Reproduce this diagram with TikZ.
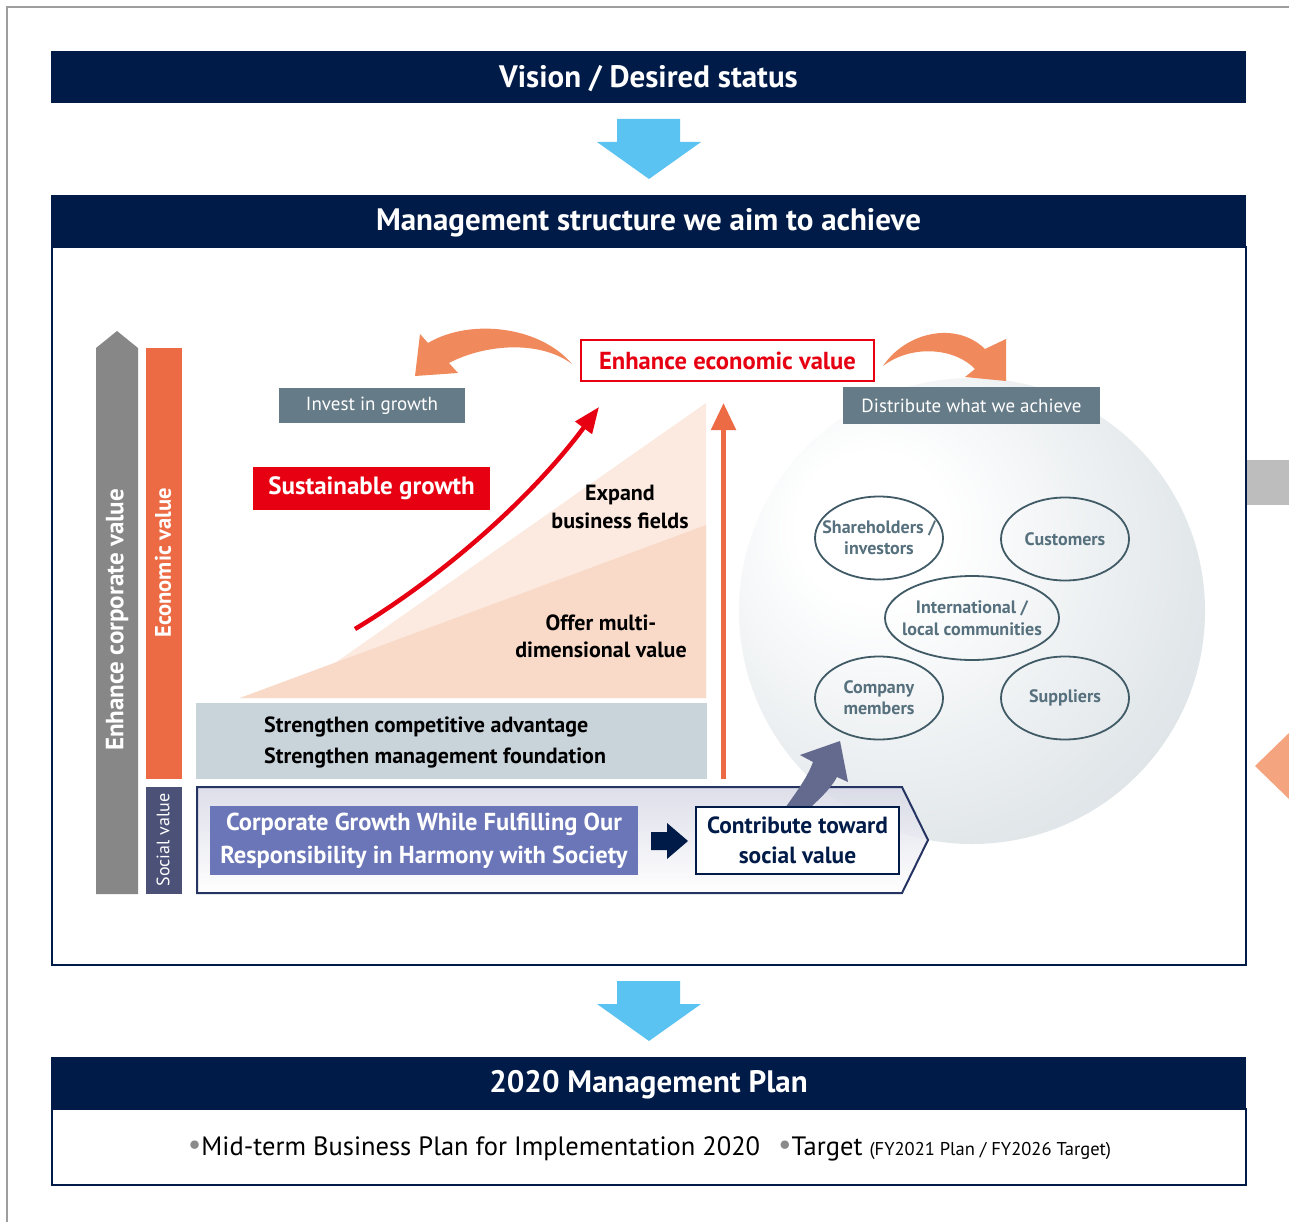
\documentclass[tikz,border=0pt]{standalone}
\usepackage{fontspec}
\setmainfont{PT Sans}
\usetikzlibrary{arrows.meta,shapes.geometric}
\definecolor{navy}{HTML}{011B49}
\definecolor{sky}{HTML}{5BC3F1}
\definecolor{grayarr}{HTML}{878787}
\definecolor{orbar}{HTML}{EC6B45}
\definecolor{socbar}{HTML}{4B5177}
\definecolor{slate}{HTML}{657B87}
\definecolor{redc}{HTML}{E60012}
\definecolor{orcurve}{HTML}{F08A5D}
\definecolor{peachL}{HTML}{FCEAE0}
\definecolor{peachD}{HTML}{F9DAC8}
\definecolor{strbox}{HTML}{C8D3DA}
\definecolor{pentb}{HTML}{253463}
\definecolor{pentf}{HTML}{D8D9E6}
\definecolor{bluebox}{HTML}{6B76B8}
\definecolor{slatearr}{HTML}{646A8E}
\definecolor{ellst}{HTML}{405A66}
\definecolor{elltx}{HTML}{56707D}
\definecolor{sphedge}{HTML}{CDD6DB}
\definecolor{framegray}{HTML}{9E9E9E}
\definecolor{sidegray}{HTML}{BDBDBD}
\definecolor{sidesalmon}{HTML}{F4A47E}
\definecolor{bul}{HTML}{8A8A8A}
\newcommand\fsz[2]{\fontsize{#1}{#2}\selectfont}
\newcommand\lowertxt[2]{\raisebox{-#1}[\height][\depth]{#2}}
\pgfdeclareradialshading{sph}{\pgfpoint{-12bp}{10bp}}{%
  color(0bp)=(white); color(8bp)=(white); color(30bp)=(sphedge!55); color(52bp)=(sphedge); color(80bp)=(sphedge)}
\tikzset{
  hdr/.style={fill=navy, text=white, font=\bfseries\fsz{31}{35}, minimum width=1195pt, minimum height=52pt, inner sep=0pt},
  tag/.style={fill=slate, text=white, font=\fsz{19}{22}, inner sep=0pt},
  ell/.style={ellipse, draw=ellst, line width=1.8pt, inner sep=0pt, minimum width=128pt, minimum height=83pt},
  elltxt/.style={text=elltx, font=\bfseries\fsz{18}{21}, align=center, inner sep=0pt},
  blk/.style={font=\bfseries\fsz{22}{28}, align=center, text=black},
  rot/.style={rotate=90, text=white, inner sep=0pt},
}
\begin{document}
\begin{tikzpicture}[x=1pt,y=-1pt]
\useasboundingbox (0,0) rectangle (1289,1222);
\fill[white] (0,0) rectangle (1289,1222);
% frame bits
\draw[framegray, line width=2pt] (7,1222) -- (7,7) -- (1289,7);
\fill[sidegray] (1247,460) rectangle (1289,505);
\fill[sidesalmon] (1255,766) -- (1289,733) -- (1289,799) -- cycle;

% headers
\node[hdr] (vision) at (648.5,77) {\lowertxt{2pt}{Vision / Desired status}};
\fill[sky] (617,119) -- (680,119) -- (680,142) -- (701,142) -- (649,179) -- (597,142) -- (617,142) -- cycle;
\node[hdr] (mgmt) at (648.5,221) {\lowertxt{2pt}{Management structure we aim to achieve}};
\draw[navy, line width=2pt] (52,247) rectangle (1246,965);
\fill[sky] (617,981) -- (680,981) -- (680,1004) -- (701,1004) -- (649,1041) -- (597,1004) -- (617,1004) -- cycle;
\node[hdr] (plan) at (648.5,1083) {\lowertxt{2pt}{2020 Management Plan}};
\draw[navy, line width=2pt] (52,1109) rectangle (1246,1185);
\node[font=\fsz{26.5}{30}, inner sep=0pt] (planline) at (649.5,1149)
  {{\color{bul}\fsz{30}{30}\raisebox{1pt}{\textbullet}}Mid-term Business Plan for Implementation 2020\hspace{18pt}{\color{bul}\fsz{30}{30}\raisebox{1pt}{\textbullet}}Target {\fsz{18.5}{22}(FY2021 Plan / FY2026 Target)}};

% sphere
\shade[shading=sph] (972,611) circle[radius=233];

% left bars
\fill[grayarr] (96,348) -- (117,331) -- (138,348) -- (138,894) -- (96,894) -- cycle;
\node[rot, font=\bfseries\fsz{25}{27}] (corp) at (117,620) {Enhance corporate value};
\fill[orbar] (146,348) rectangle (182,779);
\node[rot, font=\bfseries\fsz{22.5}{24}] (econ) at (163,563) {Economic value};
\fill[socbar] (146,787) rectangle (182,894);
\node[rot, font=\fsz{18}{20}] (soc) at (163,840) {Social value};

% peach triangles
\fill[peachL] (240,698) -- (335,663) -- (706,403) -- (706,698) -- cycle;
\fill[peachD] (240,698) -- (706,525) -- (706,698) -- cycle;
\node[blk] (expand) at (620,507) {Expand\\business fields};
\node[blk, font=\bfseries\fsz{22}{27}] (offer) at (601,636.5) {Offer multi-\\dimensional value};

% strengthen box
\node[fill=strbox, minimum width=511pt, minimum height=76pt, inner sep=0pt] (str) at (451.5,741) {};
\node[font=\bfseries\fsz{22}{31}, align=left, anchor=west, inner sep=0pt] (strtxt) at (264,742) {Strengthen competitive advantage\\Strengthen management foundation};

% orange vertical arrow
\coordinate (ovb) at (723.5,779);
\coordinate (ovt) at (723.5,403);
\draw[orbar, line width=5pt, -{Triangle[length=27pt,width=24pt]}] (ovb) -- (ovt);

% top labels
\node[draw=redc, line width=2pt, fill=white, text=redc, font=\bfseries\fsz{24.6}{26}, minimum width=293pt, minimum height=41pt, inner sep=0pt] (enh) at (727.5,360.5) {Enhance economic value};
\node[tag, minimum width=186pt, minimum height=35pt] (invest) at (372,405.5) {Invest in growth};
\node[tag, minimum width=257pt, minimum height=37pt] (dist) at (971.5,405.5) {Distribute what we achieve};
\node[fill=redc, text=white, font=\bfseries\fsz{25}{27}, minimum width=237pt, minimum height=43pt, inner sep=0pt] (sust) at (371.5,488.5) {Sustainable growth};

% curved orange arrows
\fill[orcurve] (572,364) .. controls (540,326) and (470,318) .. (428,343)
  -- (420,334) -- (415,376) -- (458,373) -- (449,363)
  .. controls (485,344) and (540,340) .. (572,364) -- cycle;
\fill[orcurve] (883,366) .. controls (905,333) and (955,320) .. (985,349)
  -- (1006,339) -- (1006,381) -- (965,377) -- (975,369)
  .. controls (955,348) and (912,344) .. (883,366) -- cycle;

% red growth arrow
\coordinate (rs) at (355,629);
\coordinate (re) at (599,407);
\draw[redc, line width=4.5pt, -{Triangle[length=26pt,width=20pt]}] (rs) .. controls (440,578) and (530,500) .. (re);

% ellipses
\node[ell] (sh) at (879,538) {};
\node[elltxt] at (sh) {Shareholders /\\investors};
\node[ell] (cu) at (1065,539) {};
\node[elltxt] at (cu) {Customers};
\node[ell, minimum width=174pt, minimum height=84pt] (intl) at (972,618) {};
\node[elltxt, font=\bfseries\fsz{18}{22}] at (intl) {International /\\local communities};
\node[ell] (co) at (879,698) {};
\node[elltxt] at (co) {Company\\members};
\node[ell] (su) at (1065,698) {};
\node[elltxt] at (su) {Suppliers};

% pentagon
\shade[top color=pentf, bottom color=white, opacity=0.85] (197,787) -- (902,787) -- (928,840) -- (902,893) -- (197,893) -- cycle;
\draw[pentb, line width=2pt] (197,787) -- (902,787) -- (928,840) -- (902,893) -- (197,893) -- cycle;
\node[fill=bluebox, text=white, font=\bfseries\fsz{24.5}{33}, align=center, minimum width=428pt, minimum height=69pt, inner sep=0pt] (corpg) at (424,840.5) {Corporate Growth While Fulfilling Our\\Responsibility in Harmony with Society};
\fill[navy] (651,832) -- (667,832) -- (667,823) -- (688,841) -- (667,859) -- (667,850) -- (651,850) -- cycle;

% slate arrow
\fill[slatearr] (785,808) .. controls (798,790) and (808,776) .. (813,762)
  -- (800,755) -- (840,741) -- (848,782) -- (837,777)
  .. controls (830,790) and (818,800) .. (810,808) -- cycle;
\node[draw=navy, line width=2pt, fill=white, text=navy, font=\bfseries\fsz{23.4}{30}, align=center, minimum width=203pt, minimum height=67pt, inner sep=0pt] (contrib) at (797.5,840.5) {Contribute toward\\social value};
\end{tikzpicture}
\end{document}
